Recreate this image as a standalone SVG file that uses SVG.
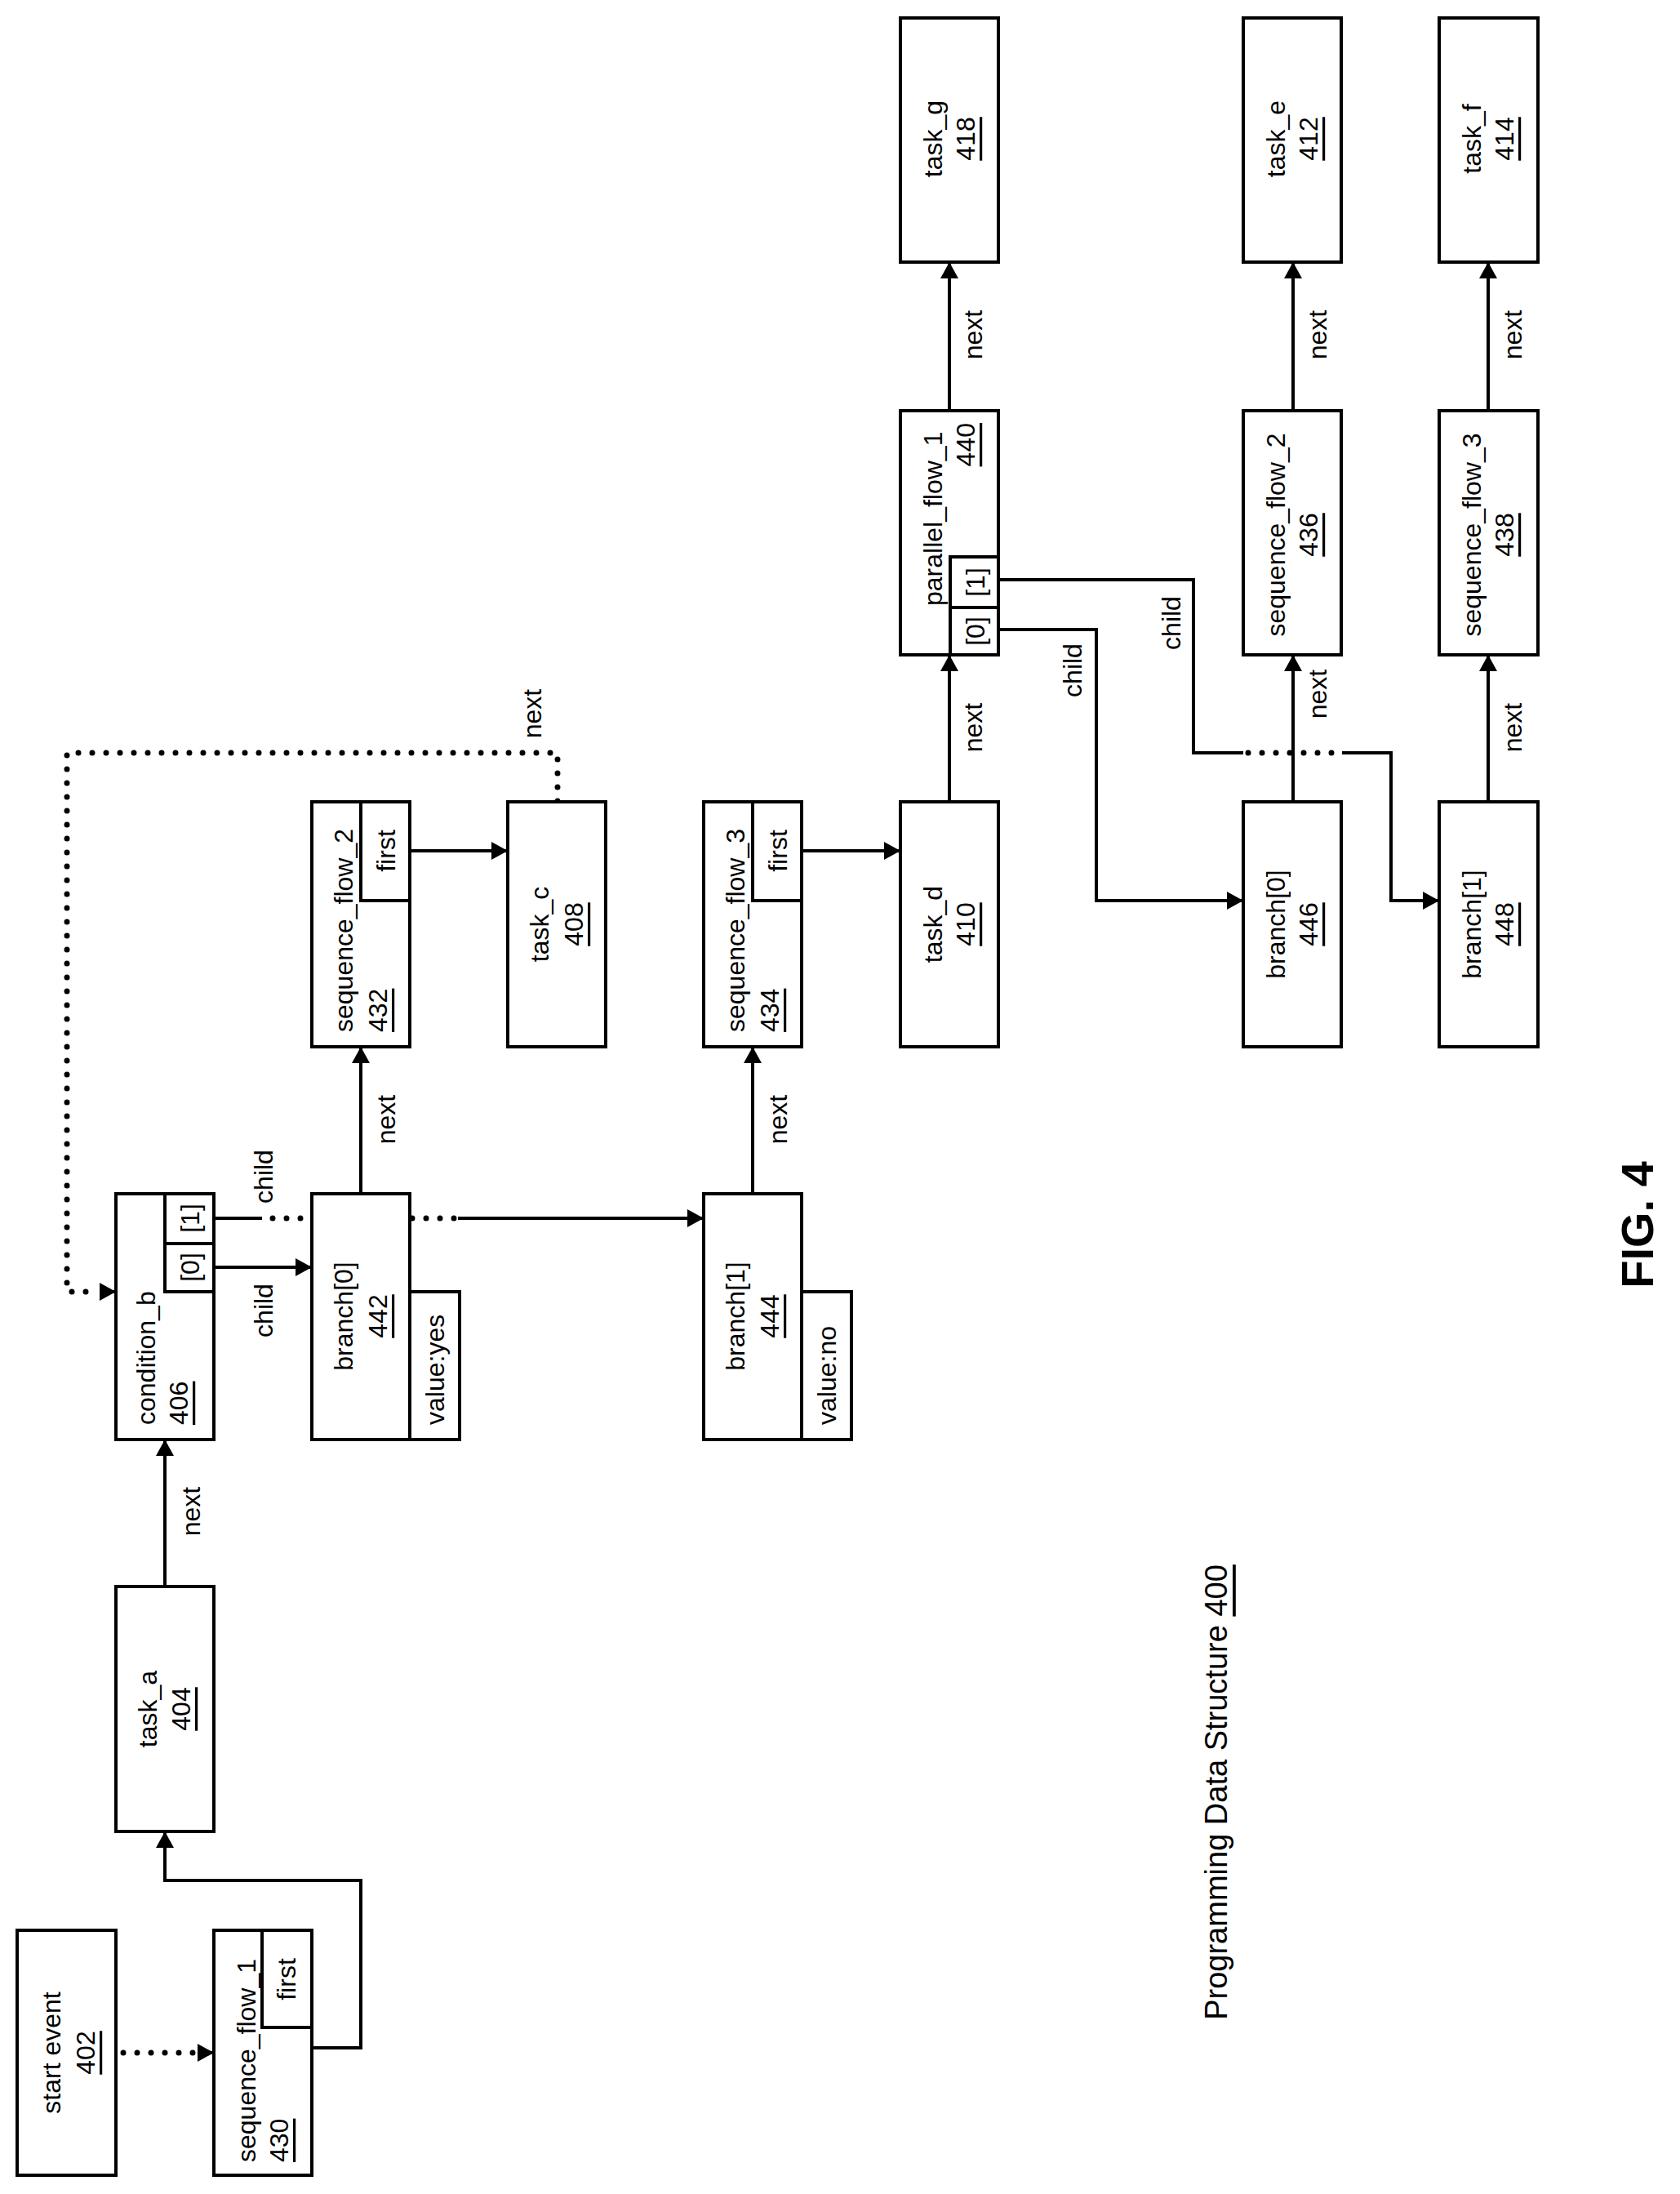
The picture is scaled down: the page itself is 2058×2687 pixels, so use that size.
<svg xmlns="http://www.w3.org/2000/svg" width="2058" height="2687" viewBox="0 0 2058 2687">
<style>
rect{fill:#fff;stroke:#000;stroke-width:4}
text{font-family:"Liberation Sans",Arial,sans-serif;font-size:32px;dominant-baseline:central;fill:#000}
.u{text-decoration:underline}
.c{text-anchor:middle}
.e{text-anchor:end}
.l{fill:none;stroke:#000;stroke-width:4}
.d{fill:none;stroke:#000;stroke-width:7;stroke-linecap:round;stroke-dasharray:0 17}
</style>
<defs>
<marker id="a" markerUnits="userSpaceOnUse" markerWidth="22" markerHeight="22" refX="20" refY="11" orient="auto"><path d="M0,0 L20,11 L0,22 Z" fill="#000"/></marker>
</defs>
<rect width="2058" height="2687" style="fill:#fff;stroke:none"/>
<g id="connectors">
<line class="d" x1="151" y1="2514" x2="245" y2="2514"/>
<line class="l" x1="245" y1="2514" x2="262" y2="2514" marker-end="url(#a)"/>
<polyline class="l" points="382,2508 442,2508 442,2303 202,2303 202,2243" marker-end="url(#a)"/>
<line class="l" x1="202" y1="1943" x2="202" y2="1763" marker-end="url(#a)"/>
<line class="l" x1="262" y1="1552" x2="382" y2="1552" marker-end="url(#a)"/>
<line class="l" x1="262" y1="1492" x2="321" y2="1492"/>
<line class="d" x1="334" y1="1492" x2="380" y2="1492"/>
<line class="d" x1="505" y1="1492" x2="561" y2="1492"/>
<line class="l" x1="561" y1="1492" x2="862" y2="1492" marker-end="url(#a)"/>
<polyline class="d" points="683,981 683,922 82,922 82,1582 110,1582"/>
<line class="l" x1="122" y1="1582" x2="142" y2="1582" marker-end="url(#a)"/>
<line class="l" x1="442" y1="1462" x2="442" y2="1282" marker-end="url(#a)"/>
<line class="l" x1="922" y1="1462" x2="922" y2="1282" marker-end="url(#a)"/>
<line class="l" x1="502" y1="1042" x2="622" y2="1042" marker-end="url(#a)"/>
<line class="l" x1="982" y1="1042" x2="1103" y2="1042" marker-end="url(#a)"/>
<line class="l" x1="1163" y1="982" x2="1163" y2="802" marker-end="url(#a)"/>
<line class="l" x1="1163" y1="503" x2="1163" y2="321" marker-end="url(#a)"/>
<line class="l" x1="1584" y1="982" x2="1584" y2="802" marker-end="url(#a)"/>
<line class="l" x1="1584" y1="503" x2="1584" y2="321" marker-end="url(#a)"/>
<line class="l" x1="1823" y1="982" x2="1823" y2="802" marker-end="url(#a)"/>
<line class="l" x1="1823" y1="503" x2="1823" y2="321" marker-end="url(#a)"/>
<polyline class="l" points="1223,771 1343,771 1343,1103 1523,1103" marker-end="url(#a)"/>
<polyline class="l" points="1223,710 1462,710 1462,922 1523,922"/>
<line class="d" x1="1529" y1="922" x2="1644" y2="922"/>
<polyline class="l" points="1644,922 1704,922 1704,1103 1763,1103" marker-end="url(#a)"/>
<text transform="translate(234,1851) rotate(-90)" class="c">next</text>
<text transform="translate(323,1441) rotate(-90)" class="c">child</text>
<text transform="translate(323,1605) rotate(-90)" class="c">child</text>
<text transform="translate(652,874) rotate(-90)" class="c">next</text>
<text transform="translate(473,1371) rotate(-90)" class="c">next</text>
<text transform="translate(953,1371) rotate(-90)" class="c">next</text>
<text transform="translate(1192,891) rotate(-90)" class="c">next</text>
<text transform="translate(1192,410) rotate(-90)" class="c">next</text>
<text transform="translate(1614,850) rotate(-90)" class="c">next</text>
<text transform="translate(1614,410) rotate(-90)" class="c">next</text>
<text transform="translate(1853,891) rotate(-90)" class="c">next</text>
<text transform="translate(1853,410) rotate(-90)" class="c">next</text>
<text transform="translate(1314,821) rotate(-90)" class="c">child</text>
<text transform="translate(1435,763) rotate(-90)" class="c">child</text>
</g>
<g id="n402"><rect x="21" y="2364" width="121" height="300"/>
<text transform="translate(63,2514) rotate(-90)" class="c">start event</text>
<text transform="translate(105,2514) rotate(-90)" class="c u">402</text></g>
<g id="n430"><rect x="262" y="2364" width="120" height="300"/><rect x="321" y="2364" width="61" height="119"/>
<text transform="translate(302,2648) rotate(-90)">sequence_flow_1</text>
<text transform="translate(342,2648) rotate(-90)" class="u">430</text>
<text transform="translate(351,2424) rotate(-90)" class="c">first</text></g>
<g id="n404"><rect x="142" y="1943" width="120" height="300"/>
<text transform="translate(181,2093) rotate(-90)" class="c">task_a</text>
<text transform="translate(222,2093) rotate(-90)" class="c u">404</text></g>
<g id="n406"><rect x="142" y="1462" width="120" height="301"/><rect x="202" y="1462" width="60" height="61"/><rect x="202" y="1523" width="60" height="59"/>
<text transform="translate(179,1745) rotate(-90)">condition_b</text>
<text transform="translate(219,1745) rotate(-90)" class="u">406</text>
<text transform="translate(233,1492) rotate(-90)" class="c">[1]</text>
<text transform="translate(233,1552) rotate(-90)" class="c">[0]</text></g>
<g id="n442"><rect x="382" y="1462" width="120" height="301"/><rect x="502" y="1582" width="61" height="181"/>
<text transform="translate(421,1612) rotate(-90)" class="c">branch[0]</text>
<text transform="translate(463,1612) rotate(-90)" class="c u">442</text>
<text transform="translate(533,1745) rotate(-90)">value:yes</text></g>
<g id="n444"><rect x="862" y="1462" width="120" height="301"/><rect x="982" y="1582" width="61" height="181"/>
<text transform="translate(901,1612) rotate(-90)" class="c">branch[1]</text>
<text transform="translate(943,1612) rotate(-90)" class="c u">444</text>
<text transform="translate(1013,1745) rotate(-90)">value:no</text></g>
<g id="n432"><rect x="382" y="982" width="120" height="300"/><rect x="442" y="982" width="60" height="121"/>
<text transform="translate(421,1264) rotate(-90)">sequence_flow_2</text>
<text transform="translate(463,1264) rotate(-90)" class="u">432</text>
<text transform="translate(473,1042) rotate(-90)" class="c">first</text></g>
<g id="n408"><rect x="622" y="982" width="120" height="300"/>
<text transform="translate(661,1132) rotate(-90)" class="c">task_c</text>
<text transform="translate(703,1132) rotate(-90)" class="c u">408</text></g>
<g id="n434"><rect x="862" y="982" width="120" height="300"/><rect x="922" y="982" width="60" height="121"/>
<text transform="translate(901,1264) rotate(-90)">sequence_flow_3</text>
<text transform="translate(943,1264) rotate(-90)" class="u">434</text>
<text transform="translate(953,1042) rotate(-90)" class="c">first</text></g>
<g id="n410"><rect x="1103" y="982" width="120" height="300"/>
<text transform="translate(1143,1132) rotate(-90)" class="c">task_d</text>
<text transform="translate(1183,1132) rotate(-90)" class="c u">410</text></g>
<g id="n440"><rect x="1103" y="503" width="120" height="299"/><rect x="1164" y="682" width="59" height="62"/><rect x="1164" y="744" width="59" height="58"/>
<text transform="translate(1143,742) rotate(-90)">parallel_flow_1</text>
<text transform="translate(1183,518) rotate(-90)" class="e u">440</text>
<text transform="translate(1195,713) rotate(-90)" class="c">[1]</text>
<text transform="translate(1195,773) rotate(-90)" class="c">[0]</text></g>
<g id="n418"><rect x="1103" y="22" width="120" height="299"/>
<text transform="translate(1143,170) rotate(-90)" class="c">task_g</text>
<text transform="translate(1183,170) rotate(-90)" class="c u">418</text></g>
<g id="n446"><rect x="1523" y="982" width="120" height="300"/>
<text transform="translate(1563,1132) rotate(-90)" class="c">branch[0]</text>
<text transform="translate(1603,1132) rotate(-90)" class="c u">446</text></g>
<g id="n436"><rect x="1523" y="503" width="120" height="299"/>
<text transform="translate(1563,655) rotate(-90)" class="c">sequence_flow_2</text>
<text transform="translate(1603,655) rotate(-90)" class="c u">436</text></g>
<g id="n412"><rect x="1523" y="22" width="120" height="299"/>
<text transform="translate(1563,170) rotate(-90)" class="c">task_e</text>
<text transform="translate(1603,170) rotate(-90)" class="c u">412</text></g>
<g id="n448"><rect x="1763" y="982" width="121" height="300"/>
<text transform="translate(1803,1132) rotate(-90)" class="c">branch[1]</text>
<text transform="translate(1843,1132) rotate(-90)" class="c u">448</text></g>
<g id="n438"><rect x="1763" y="503" width="121" height="299"/>
<text transform="translate(1803,655) rotate(-90)" class="c">sequence_flow_3</text>
<text transform="translate(1843,655) rotate(-90)" class="c u">438</text></g>
<g id="n414"><rect x="1763" y="22" width="121" height="299"/>
<text transform="translate(1803,170) rotate(-90)" class="c">task_f</text>
<text transform="translate(1843,170) rotate(-90)" class="c u">414</text></g>
<text transform="translate(1490,2195) rotate(-90)" class="c" style="font-size:38px">Programming Data Structure <tspan class="u">400</tspan></text>
<text transform="translate(2005,1500) rotate(-90)" class="c" style="font-size:56px;font-weight:bold">FIG. 4</text>
</svg>
